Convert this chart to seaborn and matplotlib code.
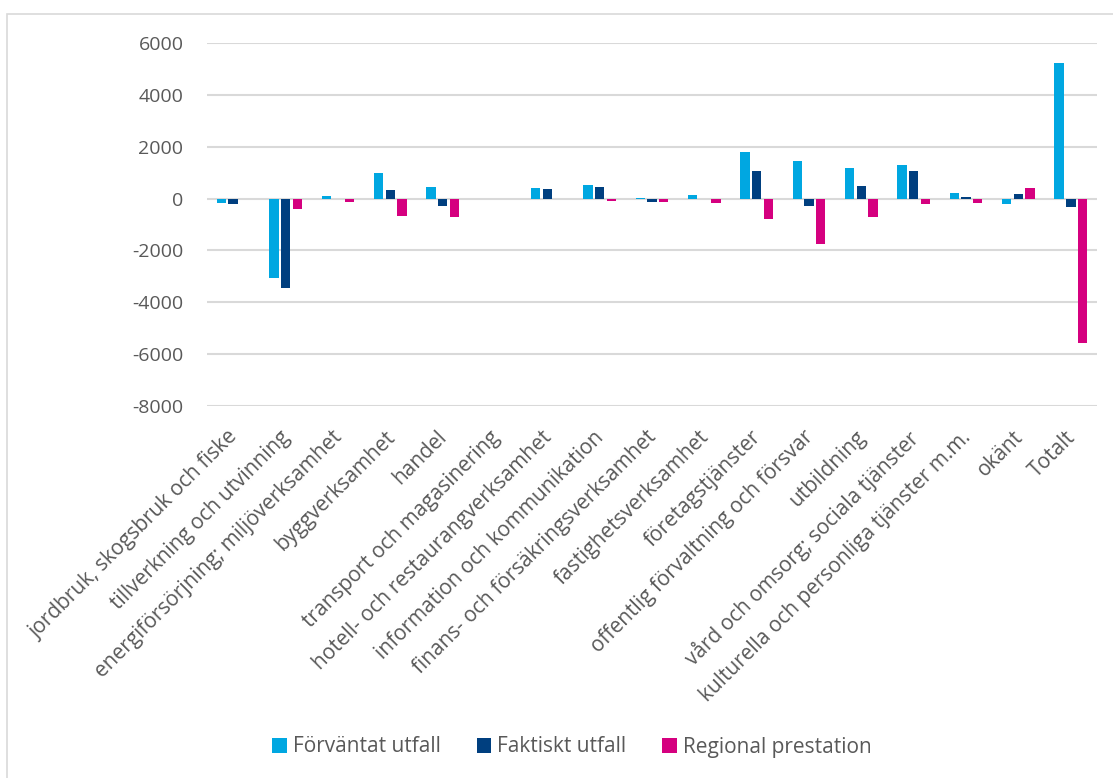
import matplotlib
matplotlib.use("Agg")
import matplotlib.pyplot as plt
import matplotlib.transforms as mtransforms
from matplotlib.patches import Rectangle
import seaborn as sns
import pandas as pd

categories = [
    "jordbruk, skogsbruk och fiske",
    "tillverkning och utvinning",
    "energiförsörjning; miljöverksamhet",
    "byggverksamhet",
    "handel",
    "transport och magasinering",
    "hotell- och restaurangverksamhet",
    "information och kommunikation",
    "finans- och försäkringsverksamhet",
    "fastighetsverksamhet",
    "företagstjänster",
    "offentlig förvaltning och försvar",
    "utbildning",
    "vård och omsorg; sociala tjänster",
    "kulturella och personliga tjänster m.m.",
    "okänt",
    "Totalt",
]
series_names = ["Förväntat utfall", "Faktiskt utfall", "Regional prestation"]
forvantat = [-190, -3070, 115, 1000, 440, -10, 410, 530, 20, 155, 1810, 1460, 1170, 1280, 205, -220, 5240]
faktiskt = [-220, -3450, 0, 330, -270, -30, 370, 440, -130, 0, 1050, -270, 500, 1060, 50, 170, -320]
regional = [-10, -390, -140, -670, -710, -30, -30, -90, -150, -180, -770, -1740, -700, -220, -170, 390, -5570]
yticks = [-8000, -6000, -4000, -2000, 0, 2000, 4000, 6000]
colors = ["#00A7E1", "#003F7F", "#D5007F"]

df = pd.DataFrame({
    "cat": categories * 3,
    "series": [series_names[0]] * len(categories) + [series_names[1]] * len(categories) + [series_names[2]] * len(categories),
    "value": forvantat + faktiskt + regional,
})

sns.set_theme(style="white")
plt.rcParams["font.family"] = ["Open Sans", "DejaVu Sans"]
text_color = "#595959"

W, H = 1113, 778
fig = plt.figure(figsize=(W / 100, H / 100), dpi=100)
ax = fig.add_axes([207 / W, 1 - 406 / H, (1097 - 207) / W, (406 - 43) / H])

sns.barplot(data=df, x="cat", y="value", hue="series", hue_order=series_names,
            order=categories, palette=colors, saturation=1, width=0.67, gap=0.2,
            linewidth=0, ax=ax)

ax.set_ylim(-8000, 6000)
ax.set_yticks(yticks)
ax.set_yticklabels([str(v) for v in yticks], fontsize=14, color=text_color)
ax.yaxis.grid(True, color="#D9D9D9", linewidth=1.5)
ax.set_axisbelow(True)
ax.set_xlim(-0.5, len(categories) - 0.5)
for s in ax.spines.values():
    s.set_visible(False)
ax.tick_params(axis="y", length=0, pad=17)
ax.tick_params(axis="x", length=0, pad=15)
ax.set_xlabel("")
ax.set_ylabel("")
ax.set_xticks(range(len(categories)))
ax.set_xticklabels(categories, rotation=45, ha="right", va="top",
                   rotation_mode="anchor", fontsize=15, color=text_color)
offset = mtransforms.ScaledTranslation(-6 / 100, 0, fig.dpi_scale_trans)
for lbl in ax.get_xticklabels():
    lbl.set_transform(lbl.get_transform() + offset)

handles, labels = ax.get_legend_handles_labels()
ax.get_legend().remove()
leg = fig.legend(handles, labels, loc="center", bbox_to_anchor=(572 / W, 1 - 747 / H),
                 ncol=3, frameon=False, fontsize=15, handlelength=0.7, handleheight=0.7,
                 handletextpad=0.3, columnspacing=1.7)
for t in leg.get_texts():
    t.set_color(text_color)

fig.patches.append(Rectangle((7 / W, -0.05), 1.1, 1 - 14 / H + 0.05,
                             transform=fig.transFigure, fill=False,
                             edgecolor="#D9D9D9", linewidth=1.2, clip_on=False))

fig.savefig("out.png", dpi=100, facecolor="white")
